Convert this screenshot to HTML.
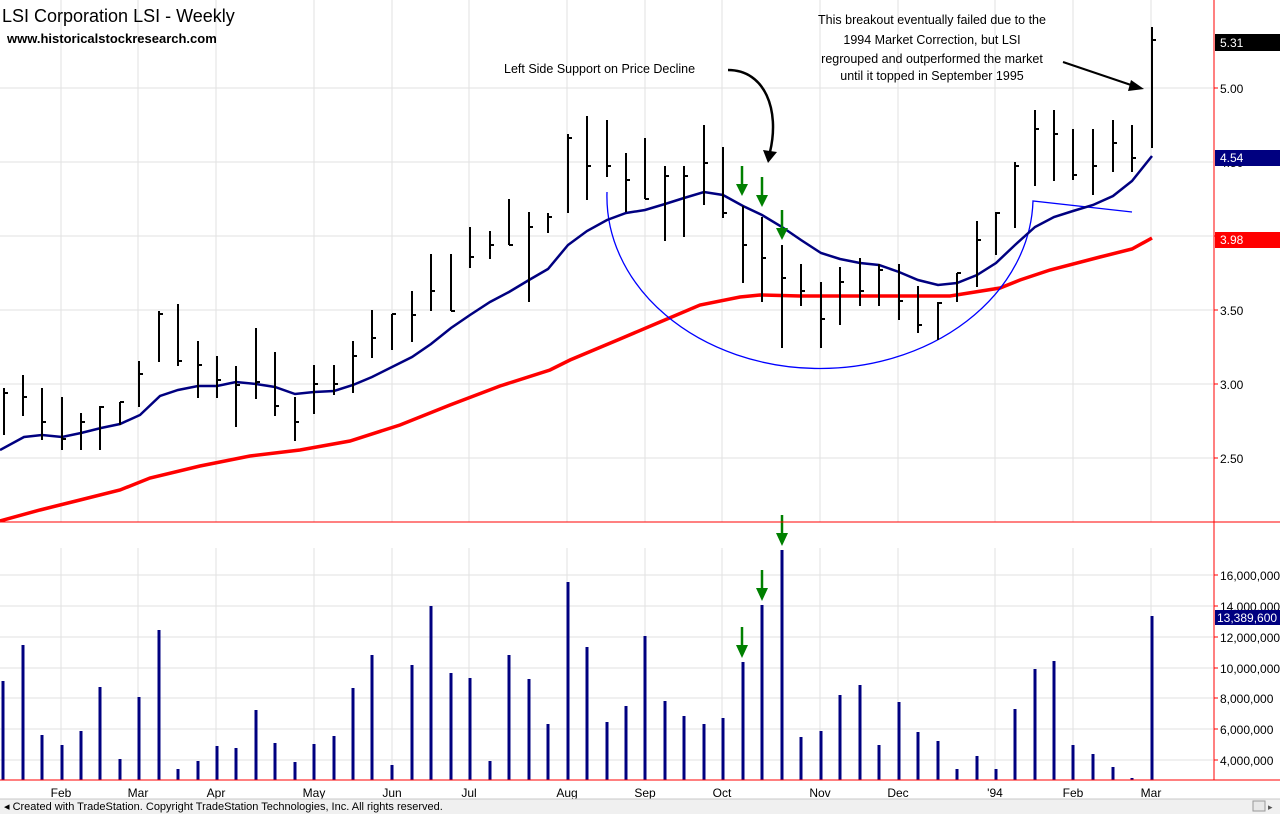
<!DOCTYPE html>
<html><head><meta charset="utf-8"><style>
body{margin:0;background:#fff;}
svg{display:block;font-family:"Liberation Sans",sans-serif;}
</style></head><body>
<svg width="1280" height="814" viewBox="0 0 1280 814" xmlns="http://www.w3.org/2000/svg">
<rect width="1280" height="814" fill="#fff"/>
<!-- grid -->
<g stroke="#e2e2e2" stroke-width="1">
<line x1="0" y1="88" x2="1213" y2="88"/><line x1="0" y1="162" x2="1213" y2="162"/><line x1="0" y1="236" x2="1213" y2="236"/><line x1="0" y1="310" x2="1213" y2="310"/><line x1="0" y1="384" x2="1213" y2="384"/><line x1="0" y1="458" x2="1213" y2="458"/>
<line x1="0" y1="575" x2="1213" y2="575"/><line x1="0" y1="606" x2="1213" y2="606"/><line x1="0" y1="637" x2="1213" y2="637"/><line x1="0" y1="668" x2="1213" y2="668"/><line x1="0" y1="698" x2="1213" y2="698"/><line x1="0" y1="729" x2="1213" y2="729"/><line x1="0" y1="760" x2="1213" y2="760"/>
<g id="vg">
<line x1="61" y1="0" x2="61" y2="522"/><line x1="138" y1="0" x2="138" y2="522"/><line x1="216" y1="0" x2="216" y2="522"/><line x1="314" y1="0" x2="314" y2="522"/><line x1="392" y1="0" x2="392" y2="522"/><line x1="469" y1="0" x2="469" y2="522"/><line x1="567" y1="0" x2="567" y2="522"/><line x1="645" y1="0" x2="645" y2="522"/><line x1="722" y1="0" x2="722" y2="522"/><line x1="820" y1="0" x2="820" y2="522"/><line x1="898" y1="0" x2="898" y2="522"/><line x1="995" y1="0" x2="995" y2="522"/><line x1="1073" y1="0" x2="1073" y2="522"/><line x1="1151" y1="0" x2="1151" y2="522"/>
</g>
<g>
<line x1="61" y1="548" x2="61" y2="780"/><line x1="138" y1="548" x2="138" y2="780"/><line x1="216" y1="548" x2="216" y2="780"/><line x1="314" y1="548" x2="314" y2="780"/><line x1="392" y1="548" x2="392" y2="780"/><line x1="469" y1="548" x2="469" y2="780"/><line x1="567" y1="548" x2="567" y2="780"/><line x1="645" y1="548" x2="645" y2="780"/><line x1="722" y1="548" x2="722" y2="780"/><line x1="820" y1="548" x2="820" y2="780"/><line x1="898" y1="548" x2="898" y2="780"/><line x1="995" y1="548" x2="995" y2="780"/><line x1="1073" y1="548" x2="1073" y2="780"/><line x1="1151" y1="548" x2="1151" y2="780"/>
</g>
</g>
<!-- red MA -->
<polyline fill="none" stroke="#ff0000" stroke-width="3.5" points="0,521 40,510 80,500 120,490 150,478 200,466 250,456 300,450 350,441 400,425 450,405 500,386 550,370 570,360 620,339 660,322 700,305 740,297 760,295 800,296 900,296 950,296 1000,288 1020,280 1050,270 1100,257 1132,249 1152,238"/>
<!-- blue annotation arc -->
<path d="M607,192 A213,172 0 0 0 1033,201 L1132,212" fill="none" stroke="#0000ff" stroke-width="1.3"/>
<!-- navy MA -->
<polyline fill="none" stroke="#000080" stroke-width="2.5" points="0,450 24,437 42,435 62,437 81,433 101,428 120,424 140,415 160,396 178,390 198,386 217,386 236,382 256,384 275,387 295,394 314,392 334,391 353,385 372,377 392,367 412,357 431,344 451,328 470,315 490,302 509,292 529,280 548,269 568,245 587,231 607,220 626,213 645,210 665,204 684,198 704,192 723,195 743,206 762,215 782,227 801,240 821,253 840,259 860,263 879,265 899,272 918,280 938,285 957,283 977,275 996,263 1015,245 1035,227 1054,217 1073,211 1093,205 1113,196 1132,181 1152,156"/>
<!-- price bars -->
<g stroke="#000" stroke-width="2" fill="none">
<path d="M4,388V435M4,393H8 M23,375V416M23,397H27 M42,388V440M42,422H46 M62,397V450M62,439H66 M81,413V450M81,422H85 M100,406V450M100,407H104 M120,402V425M120,402H124 M139,361V407M139,374H143 M159,311V362M159,314H163 M178,304V366M178,361H182 M198,341V398M198,365H202 M217,356V398M217,380H221 M236,366V427M236,385H240 M256,328V399M256,382H260 M275,352V416M275,406H279 M295,397V441M295,422H299 M314,365V414M314,384H318 M334,365V395M334,384H338 M353,341V393M353,356H357 M372,310V358M372,338H376 M392,314V350M392,314H396 M412,291V342M412,315H416 M431,254V311M431,291H435 M451,254V311M451,311H455 M470,227V268M470,257H474 M490,231V259M490,245H494 M509,199V245M509,245H513 M529,212V302M529,227H533 M548,213V233M548,217H552 M568,134V213M568,138H572 M587,116V200M587,166H591 M607,120V177M607,166H611 M626,153V212M626,180H630 M645,138V199M645,199H649 M665,166V241M665,176H669 M684,166V237M684,176H688 M704,125V205M704,163H708 M723,147V218M723,213H727 M743,206V283M743,245H747 M762,217V302M762,258H766 M782,245V348M782,278H786 M801,264V306M801,291H805 M821,282V348M821,319H825 M840,267V325M840,282H844 M860,258V306M860,291H864 M879,264V306M879,270H883 M899,264V320M899,301H903 M918,286V333M918,325H922 M938,302V340M938,303H942 M957,273V302M957,273H961 M977,221V287M977,240H981 M996,212V255M996,213H1000 M1015,162V228M1015,166H1019 M1035,110V186M1035,129H1039 M1054,110V181M1054,134H1058 M1073,129V180M1073,175H1077 M1093,129V195M1093,166H1097 M1113,120V172M1113,143H1117 M1132,125V172M1132,158H1136 M1152,27V148M1152,40H1156"/>
</g>
<!-- green arrows price -->
<g fill="#008000" stroke="#008000">
<line x1="742" y1="166" x2="742" y2="186" stroke-width="2.5"/><polygon points="736,184 748,184 742,196" stroke="none"/>
<line x1="762" y1="177" x2="762" y2="197" stroke-width="2.5"/><polygon points="756,195 768,195 762,207" stroke="none"/>
<line x1="782" y1="210" x2="782" y2="230" stroke-width="2.5"/><polygon points="776,228 788,228 782,240" stroke="none"/>
<line x1="742" y1="627" x2="742" y2="647" stroke-width="2.5"/><polygon points="736,645 748,645 742,658" stroke="none"/>
<line x1="762" y1="570" x2="762" y2="590" stroke-width="2.5"/><polygon points="756,588 768,588 762,601" stroke="none"/>
<line x1="782" y1="515" x2="782" y2="535" stroke-width="2.5"/><polygon points="776,533 788,533 782,546" stroke="none"/>
</g>
<!-- black annotation arrows -->
<path d="M728,70 C765,70 780,110 770,152" fill="none" stroke="#000" stroke-width="2.5"/>
<polygon points="763,150 777,152 768,163" fill="#000"/>
<line x1="1063" y1="62" x2="1134" y2="86" stroke="#000" stroke-width="2"/>
<polygon points="1131,80 1144,89 1128,91" fill="#000"/>
<!-- texts -->
<text x="2" y="22" font-size="18" fill="#000">LSI Corporation  LSI - Weekly</text>
<text x="7" y="43" font-size="13" font-weight="bold" fill="#000">www.historicalstockresearch.com</text>
<text x="504" y="73" font-size="12.5" fill="#000">Left Side Support on Price Decline</text>
<g font-size="12.5" fill="#000" text-anchor="middle">
<text x="932" y="24">This breakout eventually failed due to the</text>
<text x="932" y="44">1994 Market Correction, but LSI</text>
<text x="932" y="63">regrouped and outperformed the market</text>
<text x="932" y="80">until it topped in September 1995</text>
</g>
<!-- volume bars -->
<g stroke="#000080" stroke-width="3">
<path d="M3,681V780 M23,645V780 M42,735V780 M62,745V780 M81,731V780 M100,687V780 M120,759V780 M139,697V780 M159,630V780 M178,769V780 M198,761V780 M217,746V780 M236,748V780 M256,710V780 M275,743V780 M295,762V780 M314,744V780 M334,736V780 M353,688V780 M372,655V780 M392,765V780 M412,665V780 M431,606V780 M451,673V780 M470,678V780 M490,761V780 M509,655V780 M529,679V780 M548,724V780 M568,582V780 M587,647V780 M607,722V780 M626,706V780 M645,636V780 M665,701V780 M684,716V780 M704,724V780 M723,718V780 M743,662V780 M762,605V780 M782,550V780 M801,737V780 M821,731V780 M840,695V780 M860,685V780 M879,745V780 M899,702V780 M918,732V780 M938,741V780 M957,769V780 M977,756V780 M996,769V780 M1015,709V780 M1035,669V780 M1054,661V780 M1073,745V780 M1093,754V780 M1113,767V780 M1132,778V780 M1152,616V780"/>
</g>
<!-- axes -->
<line x1="1214" y1="0" x2="1214" y2="780" stroke="#ff0000" stroke-width="1"/>
<line x1="0" y1="522" x2="1280" y2="522" stroke="#ff0000" stroke-width="1"/>
<line x1="0" y1="780" x2="1280" y2="780" stroke="#ff0000" stroke-width="1"/>
<g stroke="#ff0000"><line x1="1214" y1="88" x2="1218" y2="88"/><line x1="1214" y1="236" x2="1218" y2="236"/><line x1="1214" y1="310" x2="1218" y2="310"/><line x1="1214" y1="384" x2="1218" y2="384"/><line x1="1214" y1="458" x2="1218" y2="458"/>
<line x1="1214" y1="575" x2="1218" y2="575"/><line x1="1214" y1="606" x2="1218" y2="606"/><line x1="1214" y1="637" x2="1218" y2="637"/><line x1="1214" y1="668" x2="1218" y2="668"/><line x1="1214" y1="698" x2="1218" y2="698"/><line x1="1214" y1="729" x2="1218" y2="729"/><line x1="1214" y1="760" x2="1218" y2="760"/></g>
<g font-size="12" fill="#000">
<text x="1220" y="93">5.00</text><text x="1220" y="167">4.50</text><text x="1220" y="241">4.00</text><text x="1220" y="315">3.50</text><text x="1220" y="389">3.00</text><text x="1220" y="463">2.50</text>
<text x="1220" y="580">16,000,000</text><text x="1220" y="611">14,000,000</text><text x="1220" y="642">12,000,000</text><text x="1220" y="673">10,000,000</text><text x="1220" y="703">8,000,000</text><text x="1220" y="734">6,000,000</text><text x="1220" y="765">4,000,000</text>
</g>
<rect x="1215" y="34" width="65" height="17" fill="#000"/><text x="1220" y="47" font-size="12" fill="#fff">5.31</text>
<rect x="1215" y="150" width="65" height="16" fill="#000080"/><text x="1220" y="162" font-size="12" fill="#fff">4.54</text>
<rect x="1215" y="232" width="65" height="16" fill="#ff0000"/><text x="1220" y="244" font-size="12" fill="#fff">3.98</text>
<rect x="1215" y="610" width="65" height="15" fill="#000080"/><text x="1217" y="622" font-size="12" fill="#fff">13,389,600</text>
<!-- x labels -->
<g font-size="12" fill="#000" text-anchor="middle">
<text x="61" y="797">Feb</text><text x="138" y="797">Mar</text><text x="216" y="797">Apr</text><text x="314" y="797">May</text><text x="392" y="797">Jun</text><text x="469" y="797">Jul</text><text x="567" y="797">Aug</text><text x="645" y="797">Sep</text><text x="722" y="797">Oct</text><text x="820" y="797">Nov</text><text x="898" y="797">Dec</text><text x="995" y="797">'94</text><text x="1073" y="797">Feb</text><text x="1151" y="797">Mar</text>
</g>
<!-- status bar -->
<rect x="0" y="799" width="1280" height="15" fill="#f0f0f0"/>
<line x1="0" y1="799" x2="1280" y2="799" stroke="#c8c8c8"/>
<text x="4" y="810" font-size="11" fill="#000">◂  Created with TradeStation.  Copyright TradeStation Technologies, Inc.  All rights reserved.</text>
<rect x="1253" y="801" width="12" height="10" fill="#e8e8e8" stroke="#999"/>
<text x="1268" y="810" font-size="9" fill="#555">▸</text>
</svg>
</body></html>
